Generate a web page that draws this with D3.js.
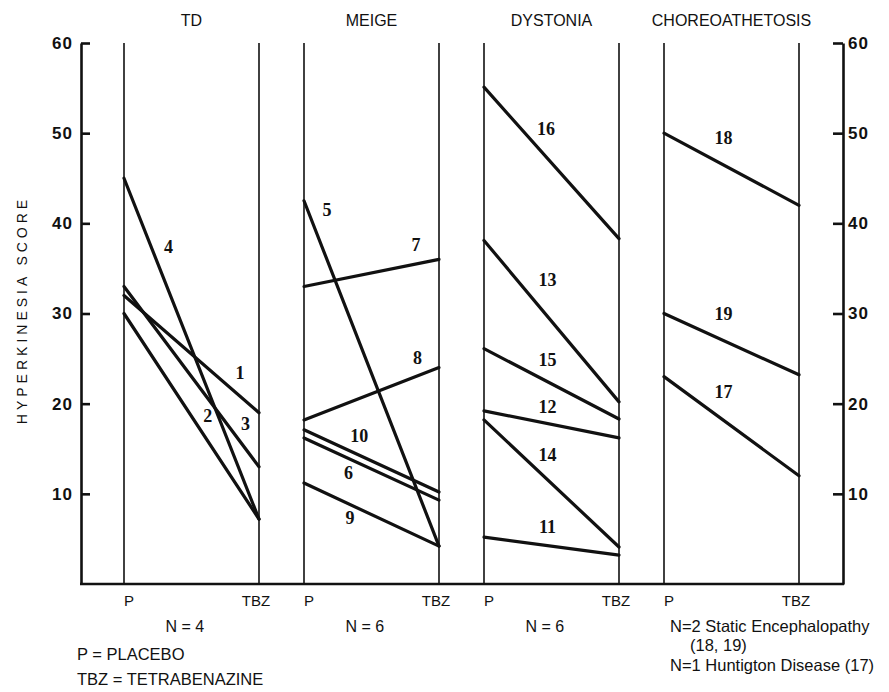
<!DOCTYPE html>
<meta charset="utf-8">
<head>
  <title>Hyperkinesia score, placebo vs tetrabenazine</title>
</head>

<style>
body { margin: 0; background: #fff; }
text { fill: #111; font-family: "Liberation Sans", Arial, sans-serif; }
.rail { stroke: #111; stroke-width: 1.6; }
.pair { stroke: #111; stroke-width: 3.2; fill: none; stroke-linecap: round; }
.num { font-family: "Liberation Serif", serif; font-weight: bold; font-size: 18px; }
.axis path, .axis line { stroke: #111; stroke-width: 2.6; }
.axis text { font-size: 17px; font-weight: bold; letter-spacing: 1px; fill: #111; font-family: "Liberation Sans", Arial, sans-serif; }
</style>

<body>
  <svg width="889" height="692"></svg>

  <script src="https://cdn.jsdelivr.net/npm/d3@7"></script>
  <script>
// groups shown as panels
var groups = ["TD", "MEIGE", "DYSTONIA", "CHOREOATHETOSIS"];
var groupN = ["N = 4", "N = 6", "N = 6", ""];
var conditions = ["P", "TBZ"];
var yTicks = [10, 20, 30, 40, 50, 60];

// one entry per patient: panel, placebo score, tetrabenazine score
var patients = ["1", "2", "3", "4", "5", "6", "7", "8", "9", "10",
                "11", "12", "13", "14", "15", "16", "17", "18", "19"];
var patientGroup = [0, 0, 0, 0, 1, 1, 1, 1, 1, 1,
                    2, 2, 2, 2, 2, 2, 3, 3, 3];
var placebo = [32, 30, 33, 45, 42.5, 16.2, 33, 18.2, 11.2, 17.1,
               5.2, 19.2, 38.1, 18.2, 26.1, 55.1, 23, 50, 30];
var tbz = [19, 7.2, 13, 7.2, 4.2, 9.3, 36, 24, 4.2, 10.2,
           3.2, 16.2, 20.2, 4.1, 18.3, 38.3, 12, 42, 23.2];
// where each patient number sits: fraction across the panel, score
var labelAt = [0.86, 0.62, 0.9, 0.33, 0.17, 0.33, 0.83, 0.84, 0.34, 0.41,
               0.47, 0.47, 0.47, 0.47, 0.47, 0.46, 0.44, 0.44, 0.44];
var labelScore = [23.4, 18.7, 17.8, 37.4, 41.5, 12.3, 37.6, 25.1, 7.4, 16.4,
                  6.3, 19.7, 33.7, 14.3, 24.9, 50.5, 21.3, 49.5, 30];

var svg = d3.select("svg");

var y = d3.scaleLinear().domain([0, 60]).range([584, 43]);
var step = 180;
var inner = d3.scaleLinear().domain([0, 1]).range([0, 135]);
function px(g, t) { return 124 + g * step + inner(t); }

// left and right axes
svg.append("g").attr("class", "axis")
  .attr("transform", "translate(81,0)")
  .call(d3.axisLeft(y).tickValues(yTicks).tickSizeInner(-9).tickSizeOuter(0).tickPadding(8));
svg.append("g").attr("class", "axis")
  .attr("transform", "translate(843,0)")
  .call(d3.axisRight(y).tickValues(yTicks).tickSizeInner(-10).tickSizeOuter(0).tickPadding(5));

// baseline
svg.append("line")
  .attr("x1", 80).attr("x2", 844)
  .attr("y1", y(0)).attr("y2", y(0))
  .attr("stroke", "#111").attr("stroke-width", 2.4);

// vertical P / TBZ rails
groups.forEach(function(name, g) {
  conditions.forEach(function(c, i) {
    svg.append("line").attr("class", "rail")
      .attr("x1", px(g, i)).attr("x2", px(g, i))
      .attr("y1", y(60)).attr("y2", y(0));
    svg.append("text")
      .attr("x", px(g, i) + (i === 0 ? 5 : -3))
      .attr("y", 606)
      .attr("text-anchor", "middle")
      .style("font-size", "15px")
      .text(c);
  });
  svg.append("text")
    .attr("x", px(g, 0.5))
    .attr("y", 26)
    .attr("text-anchor", "middle")
    .style("font-size", "16px")
    .text(name);
  if (groupN[g]) {
    svg.append("text")
      .attr("x", px(g, 0.45))
      .attr("y", 632)
      .attr("text-anchor", "middle")
      .style("font-size", "16px")
      .text(groupN[g]);
  }
});

// patient lines
svg.selectAll(".pair")
  .data(patients)
  .enter()
  .append("line")
  .attr("class", "pair")
  .attr("x1", function(d, i) { return px(patientGroup[i], 0); })
  .attr("x2", function(d, i) { return px(patientGroup[i], 1); })
  .attr("y1", function(d, i) { return y(placebo[i]); })
  .attr("y2", function(d, i) { return y(tbz[i]); });

svg.selectAll(".num")
  .data(patients)
  .enter()
  .append("text")
  .attr("class", "num")
  .attr("x", function(d, i) { return px(patientGroup[i], labelAt[i]); })
  .attr("y", function(d, i) { return y(labelScore[i]); })
  .attr("dy", "0.35em")
  .attr("text-anchor", "middle")
  .text(function(d) { return d; });

// y axis title
svg.append("text")
  .attr("transform", "translate(27,310) rotate(-90)")
  .attr("text-anchor", "middle")
  .style("font-size", "14px")
  .style("letter-spacing", "4px")
  .text("HYPERKINESIA SCORE");

// notes
var notes = [
  ["P = PLACEBO", 77, 660],
  ["TBZ = TETRABENAZINE", 77, 685],
  ["N=2 Static Encephalopathy", 670, 632],
  ["(18, 19)", 690, 651],
  ["N=1 Huntigton Disease (17)", 670, 671]
];
svg.selectAll(".note")
  .data(notes)
  .enter()
  .append("text")
  .attr("class", "note")
  .attr("x", function(d) { return d[1]; })
  .attr("y", function(d) { return d[2]; })
  .style("font-size", "16.5px")
  .text(function(d) { return d[0]; });
  </script>
</body>
</html>
